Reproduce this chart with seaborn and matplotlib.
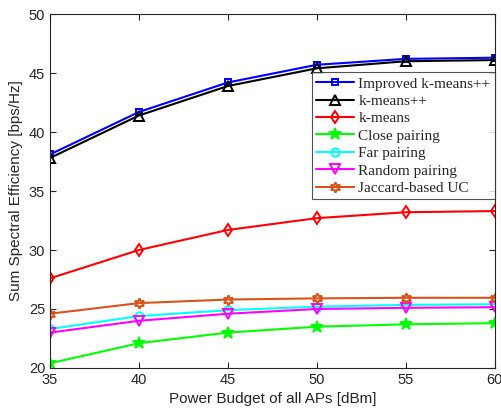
import matplotlib
matplotlib.use("Agg")
import matplotlib.pyplot as plt
import seaborn as sns
import pandas as pd

power = [35, 40, 45, 50, 55, 60]
improved_kmpp = [38.1, 41.7, 44.2, 45.7, 46.2, 46.3]
kmpp = [37.8, 41.4, 43.9, 45.4, 46.0, 46.1]
kmeans = [27.6, 30.0, 31.7, 32.7, 33.2, 33.3]
close_pairing = [20.4, 22.1, 23.0, 23.5, 23.7, 23.8]
far_pairing = [23.3, 24.4, 24.9, 25.2, 25.35, 25.4]
random_pairing = [23.0, 24.0, 24.6, 25.0, 25.1, 25.15]
jaccard_uc = [24.6, 25.5, 25.8, 25.9, 25.95, 25.95]

labels = ["Improved k-means++", "k-means++", "k-means", "Close pairing",
          "Far pairing", "Random pairing", "Jaccard-based UC"]
series = [improved_kmpp, kmpp, kmeans, close_pairing, far_pairing, random_pairing, jaccard_uc]
colors = ["#0000ff", "#000000", "#ff0000", "#00ff00", "#00ffff", "#ff00ff", "#d95319"]
markers = ["s", "^", "d", "*", "o", "v", (6, 1, 0)]
msizes = [5, 6.5, 6.5, 9, 6, 6.5, 7.5]
filled = [False, False, False, True, False, False, False]

sns.set_style("white")
plt.rcParams["font.family"] = ["Liberation Sans", "DejaVu Sans"]

fig = plt.figure(figsize=(5.02, 4.13), dpi=100)
ax = fig.add_axes([0.0996, 0.109, 0.886, 0.857])

for lab, vals, c, m, ms, f in zip(labels, series, colors, markers, msizes, filled):
    df = pd.DataFrame({"x": power, "y": vals})
    sns.lineplot(data=df, x="x", y="y", ax=ax, color=c, marker=m, markersize=ms,
                 markerfacecolor=c if f else "none", markeredgecolor=c,
                 markeredgewidth=1.4, linewidth=1.5, label=lab)

ax.set_xlim(35, 60)
ax.set_ylim(20, 50)
ax.set_xticks([35, 40, 45, 50, 55, 60])
ax.set_yticks([20, 25, 30, 35, 40, 45, 50])
ax.tick_params(direction="in", length=4, width=0.8, labelsize=10.5, colors="#262626",
               top=True, right=True, bottom=True, left=True)
for s in ax.spines.values():
    s.set_color("#262626")
    s.set_linewidth(0.8)
ax.set_xlabel("Power Budget of all APs [dBm]", fontsize=11, color="#262626")
ax.set_ylabel("Sum Spectral Efficiency [bps/Hz]", fontsize=11, color="#262626")

leg = ax.legend(loc="upper right", bbox_to_anchor=(1.0, 0.835), frameon=True,
                prop={"family": ["Liberation Serif"], "size": 11},
                handlelength=2.5, handletextpad=0.25, labelspacing=0.24,
                borderpad=0.3, borderaxespad=0.0, fancybox=False)
leg.get_frame().set_edgecolor("#262626")
leg.get_frame().set_linewidth(0.8)

fig.savefig("out.png", dpi=100)
